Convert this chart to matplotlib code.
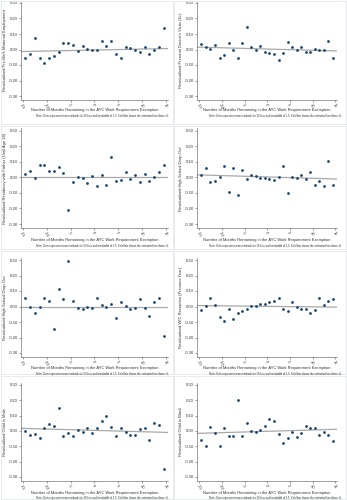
import numpy as np
import matplotlib
matplotlib.use("Agg")
import matplotlib.pyplot as plt
from matplotlib.patches import Rectangle

plt.rcParams['font.family'] = ['Liberation Sans', 'DejaVu Sans']

bins = np.arange(-14.5, 15.0, 1.0)
x_ticks = [-15, -10, -5, 0, 5, 10, 15]
x_ticklabels = ['-15', '-10', '-5', '0', '5', '10', '15']
y_ticks = [-0.30, -0.20, -0.10, 0.00, 0.10, 0.20, 0.30]
y_ticklabels = ['-0.30', '-0.20', '-0.10', '0.00', '0.10', '0.20', '0.30']

xlabel = "Number of Months Remaining in the AYC Work Requirement Exemption"
note = ("Note: Dots represent mean residuals for 30 bins and bandwidth of 1.5. "
        "Solid line shows the estimated best linear fit.")

ylabels = [
    "Residualized Pre-Birth Maternal Employment",
    "Residualized Prenatal Doctor's Visits (4+)",
    "Residualized Residency with Father (Until Age 18)",
    "Residualized High School Drop-Out",
    "Residualized High School Drop-Out",
    "Residualized WIC Reception (Previous Year)",
    "Residualized Child is Male",
    "Residualized Child is Black",
]

maternal_employment = [-0.058, -0.032, 0.071, -0.058, -0.086, -0.056, -0.043, -0.017, 0.041, 0.039,
                       0.026, -0.009, 0.024, 0.002, 0.000, -0.004, 0.056, 0.024, 0.054, -0.028,
                       -0.054, 0.015, 0.011, -0.002, -0.015, 0.019, -0.028, -0.002, 0.013, 0.138]
doctor_visits = [0.037, 0.019, 0.002, 0.032, -0.054, -0.037, 0.039, -0.004, -0.058, 0.039,
                 0.146, 0.019, -0.006, 0.022, -0.017, -0.022, -0.026, -0.069, -0.024, 0.049,
                 0.019, 0.000, 0.013, -0.019, -0.017, 0.006, 0.000, 0.000, 0.056, -0.058]
father_residency = [0.019, 0.038, -0.002, 0.077, 0.077, 0.040, 0.038, 0.064, 0.030, -0.213,
                    -0.030, 0.002, -0.002, -0.038, 0.006, -0.053, 0.013, -0.047, 0.132, -0.021,
                    -0.015, 0.034, -0.011, 0.013, -0.028, 0.019, -0.021, 0.004, 0.032, 0.081]
hs_dropout_a = [0.015, 0.057, -0.030, -0.026, 0.002, 0.072, -0.096, 0.062, -0.117, 0.045,
                -0.013, 0.015, 0.011, -0.002, -0.004, -0.009, -0.015, 0.004, 0.070, -0.100,
                0.000, -0.006, 0.013, -0.011, 0.032, -0.049, -0.021, -0.057, 0.106, -0.051]
hs_dropout_b = [0.058, 0.000, -0.043, -0.004, 0.054, 0.037, -0.145, 0.110, 0.048, 0.292,
                0.037, -0.009, -0.013, -0.006, -0.009, 0.054, 0.009, 0.000, 0.013, -0.076,
                0.030, 0.006, -0.013, -0.009, 0.050, -0.011, -0.063, 0.026, 0.052, -0.190]
wic_reception = [-0.024, 0.006, 0.058, 0.009, -0.065, -0.091, -0.017, -0.078, -0.043, -0.030,
                 -0.017, 0.004, 0.002, 0.019, 0.015, 0.030, 0.037, 0.054, -0.013, -0.032,
                 0.032, -0.004, -0.017, -0.019, -0.045, -0.024, 0.056, 0.011, 0.035, 0.050]
child_male = [0.000, -0.028, -0.017, -0.047, 0.019, 0.047, 0.030, 0.147, -0.030, -0.013,
              -0.035, 0.006, -0.009, 0.022, -0.011, 0.022, 0.063, 0.099, 0.026, -0.032,
              0.019, -0.004, -0.026, -0.028, 0.013, 0.019, -0.056, 0.050, 0.039, -0.245]
child_black = [-0.059, -0.098, 0.026, -0.015, -0.096, 0.022, -0.035, -0.030, 0.204, -0.033,
               0.052, 0.002, -0.007, 0.009, 0.030, 0.078, 0.063, -0.022, -0.078, -0.043,
               -0.007, -0.037, -0.013, 0.030, 0.020, 0.020, -0.026, -0.004, -0.026, -0.065]

series = [maternal_employment, doctor_visits, father_residency, hs_dropout_a,
          hs_dropout_b, wic_reception, child_male, child_black]

# best linear fit: intercept and slope per panel
fit_intercepts = [-0.0035, 0.003, 0.000, 0.002, 0.000, 0.001, 0.004, -0.002]
fit_slopes = [0.00063, -0.0008, 0.0, -0.00087, 0.0, -0.00033, -0.00087, 0.00087]

W, H = 347, 500
fig = plt.figure(figsize=(W / 100, H / 100), dpi=100)
fig.patch.set_facecolor('white')

navy = '#1a476f'
fitgray = '#a8a8a8'
axcol = '#555555'
txtcol = '#333333'

col_x0 = [0, 173]
col_params = [(94.5, 4.77), (94.2, 4.54)]
row_params = [(3.0, 96.0), (130.5, 224.0), (260.0, 353.0), (385.0, 477.0)]
xlabel_y = [110.0, 240.0, 368.5, 493.0]
note_y = [116.5, 246.0, 374.0, 498.3]
xlim = (-15.4, 15.4)
ylim = (-0.326, 0.313)

for i in range(8):
    r, c = divmod(i, 2)
    px0 = col_x0[c]
    py0 = r * 125
    fig.patches.append(Rectangle((px0 / W + 0.5 / W, 1 - (py0 + 124) / H), 172 / W, 123 / H,
                                 transform=fig.transFigure, fill=False,
                                 edgecolor='#e3e8ec', lw=0.6))
    xc, sx = col_params[c]
    ytop, ybot = row_params[r]
    sy = (ybot - ytop) / 0.6
    left = px0 + xc + xlim[0] * sx
    right = px0 + xc + xlim[1] * sx
    top = ytop - (ylim[1] - 0.30) * sy
    bottom = ybot + (-0.30 - ylim[0]) * sy
    ax = fig.add_axes([left / W, 1 - bottom / H, (right - left) / W, (bottom - top) / H])
    ax.set_xlim(*xlim)
    ax.set_ylim(*ylim)
    xx = np.array(xlim)
    ax.plot(xx, fit_intercepts[i] + fit_slopes[i] * xx, color=fitgray, lw=0.9, zorder=2)
    ax.plot(bins, series[i], 'o', color=navy, ms=2.0, mew=0, zorder=3)
    for s in ['top', 'right']:
        ax.spines[s].set_visible(False)
    for s in ['left', 'bottom']:
        ax.spines[s].set_color(axcol)
        ax.spines[s].set_linewidth(0.4)
    ax.set_yticks(y_ticks)
    ax.set_yticklabels(y_ticklabels, fontsize=3.0, color=txtcol)
    ax.set_xticks(x_ticks)
    ax.set_xticklabels(x_ticklabels, fontsize=3.0, color=txtcol, rotation=-65,
                       ha='left', va='top', rotation_mode='anchor')
    ax.tick_params(axis='both', length=1.2, width=0.4, color=axcol, pad=1.0)
    ax.set_ylabel(ylabels[i], fontsize=3.0, color=txtcol, labelpad=1.5)
    fig.text(((left + right) / 2) / W, 1 - xlabel_y[r] / H, xlabel, fontsize=2.85,
             color=txtcol, ha='center', va='center')
    fig.text((px0 + 169) / W, 1 - note_y[r] / H, note, fontsize=1.9,
             color=txtcol, ha='right', va='center')

fig.savefig('out.png', dpi=100, facecolor='white')
